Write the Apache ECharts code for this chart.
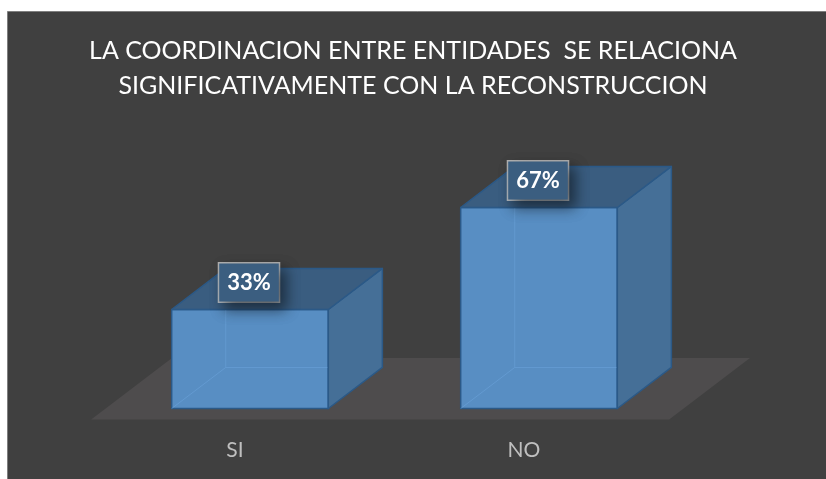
<!DOCTYPE html>
<html>
<head>
<meta charset="utf-8">
<title>Coordinación entre entidades</title>
<script src="https://cdn.jsdelivr.net/npm/echarts@6/dist/echarts.min.js"></script>
<style>
  html, body { margin: 0; padding: 0; background: #ffffff; overflow: hidden; }
  #chart { width: 826px; height: 479px; }
</style>
</head>
<body>
<div id="chart"></div>
<script>
const titleLines = [
  "LA COORDINACION ENTRE ENTIDADES  SE RELACIONA",
  "SIGNIFICATIVAMENTE CON LA RECONSTRUCCION"
];
const categories = ["SI", "NO"];
const values = [33, 67];
const valueLabels = ["33%", "67%"];

// 3D look, as parts of the category band
const BAR_WIDTH = 0.542;
const DEPTH_X = 0.187;
const DEPTH_Y = 0.142;

const chart = echarts.init(document.getElementById("chart"));

function renderFloor(params, api) {
  const first = api.coord([0, 0]);
  const last = api.coord([categories.length - 1, 0]);
  const band = api.size([1, 0])[0];
  const dx = band * DEPTH_X;
  const dy = band * DEPTH_Y;
  const left = first[0] - band / 2;
  const right = last[0] + band / 2;
  const y0 = first[1];
  const f = 0.265; // floor reaches in front of the boxes
  const b = 1.23; // and behind them
  return {
    type: "polygon",
    silent: true,
    shape: {
      points: [
        [left - dx * f, y0 + dy * f],
        [right - dx * f, y0 + dy * f],
        [right + dx * b, y0 - dy * b],
        [left + dx * b, y0 - dy * b]
      ]
    },
    style: { fill: "#4e4c4d" }
  };
}

function renderBar(params, api) {
  const idx = api.value(0);
  const top = api.coord([idx, api.value(1)]);
  const base = api.coord([idx, 0]);
  const band = api.size([1, 0])[0];
  const w = band * BAR_WIDTH;
  const dx = band * DEPTH_X;
  const dy = band * DEPTH_Y;
  const x1 = top[0] - w / 2;
  const x2 = top[0] + w / 2;
  const yt = top[1];
  const yb = base[1];
  const edge = { stroke: "#2b5987", lineWidth: 1.5, lineJoin: "round" };
  const hidden = { stroke: "rgba(110,165,222,0.5)", lineWidth: 1, fill: null };

  return {
    type: "group",
    children: [
      {
        type: "rect",
        shape: { x: x1, y: yt, width: w, height: yb - yt },
        style: Object.assign({ fill: "#588ec3" }, edge)
      },
      {
        type: "polyline",
        shape: { points: [[x1, yb], [x1 + dx, yb - dy], [x1 + dx, yt - dy]] },
        style: hidden
      },
      {
        type: "line",
        shape: { x1: x1 + dx, y1: yb - dy, x2: x2 + dx, y2: yb - dy },
        style: hidden
      },
      {
        type: "polygon",
        shape: { points: [[x2, yt], [x2 + dx, yt - dy], [x2 + dx, yb - dy], [x2, yb]] },
        style: Object.assign({ fill: "#456f97" }, edge)
      },
      {
        type: "polygon",
        shape: { points: [[x1, yt], [x1 + dx, yt - dy], [x2 + dx, yt - dy], [x2, yt]] },
        style: Object.assign({ fill: "#3a5d80" }, edge)
      },
      {
        type: "text",
        x: top[0] - 1,
        y: yt - 27,
        z2: 10,
        style: {
          text: valueLabels[idx],
          fill: "#ffffff",
          fontFamily: "Lato",
          fontWeight: "bold",
          fontSize: 22,
          lineHeight: 22,
          align: "center",
          verticalAlign: "middle",
          backgroundColor: "#3b5e80",
          borderColor: "rgba(205,205,205,0.8)",
          borderWidth: 1.5,
          padding: [8, 8, 8, 8],
          shadowColor: "rgba(0,0,0,0.5)",
          shadowBlur: 14,
          shadowOffsetX: 6,
          shadowOffsetY: 7
        }
      }
    ]
  };
}

const option = {
  animation: false,
  backgroundColor: "#ffffff",
  graphic: {
    elements: [
      {
        type: "rect",
        z: -100,
        silent: true,
        shape: { x: 7.5, y: 11.5, width: 830, height: 480 },
        style: { fill: "#404040", stroke: "#7f7f7f", lineWidth: 1 }
      }
    ]
  },
  title: {
    text: titleLines.join("\n"),
    left: "center",
    top: 33,
    padding: [0, 0, 0, 16],
    textStyle: {
      color: "#ffffff",
      fontFamily: "Lato",
      fontWeight: "normal",
      fontSize: 25,
      lineHeight: 35
    }
  },
  grid: {
    left: 105.5,
    right: 142.5,
    top: 108.5,
    bottom: 70.5
  },
  xAxis: {
    type: "category",
    data: categories,
    axisLine: { show: false },
    axisTick: { show: false },
    axisLabel: {
      color: "#bfbfbf",
      fontFamily: "Lato",
      fontSize: 21,
      margin: 31,
      padding: [0, 30, 0, 0]
    }
  },
  yAxis: {
    type: "value",
    min: 0,
    max: 100,
    show: false
  },
  series: [
    {
      type: "custom",
      name: "floor",
      silent: true,
      data: [[0, 0]],
      renderItem: renderFloor,
      z: 1
    },
    {
      type: "custom",
      name: "valores",
      data: values.map((v, i) => [i, v]),
      renderItem: renderBar,
      z: 2
    }
  ]
};

chart.setOption(option);
</script>
</body>
</html>
